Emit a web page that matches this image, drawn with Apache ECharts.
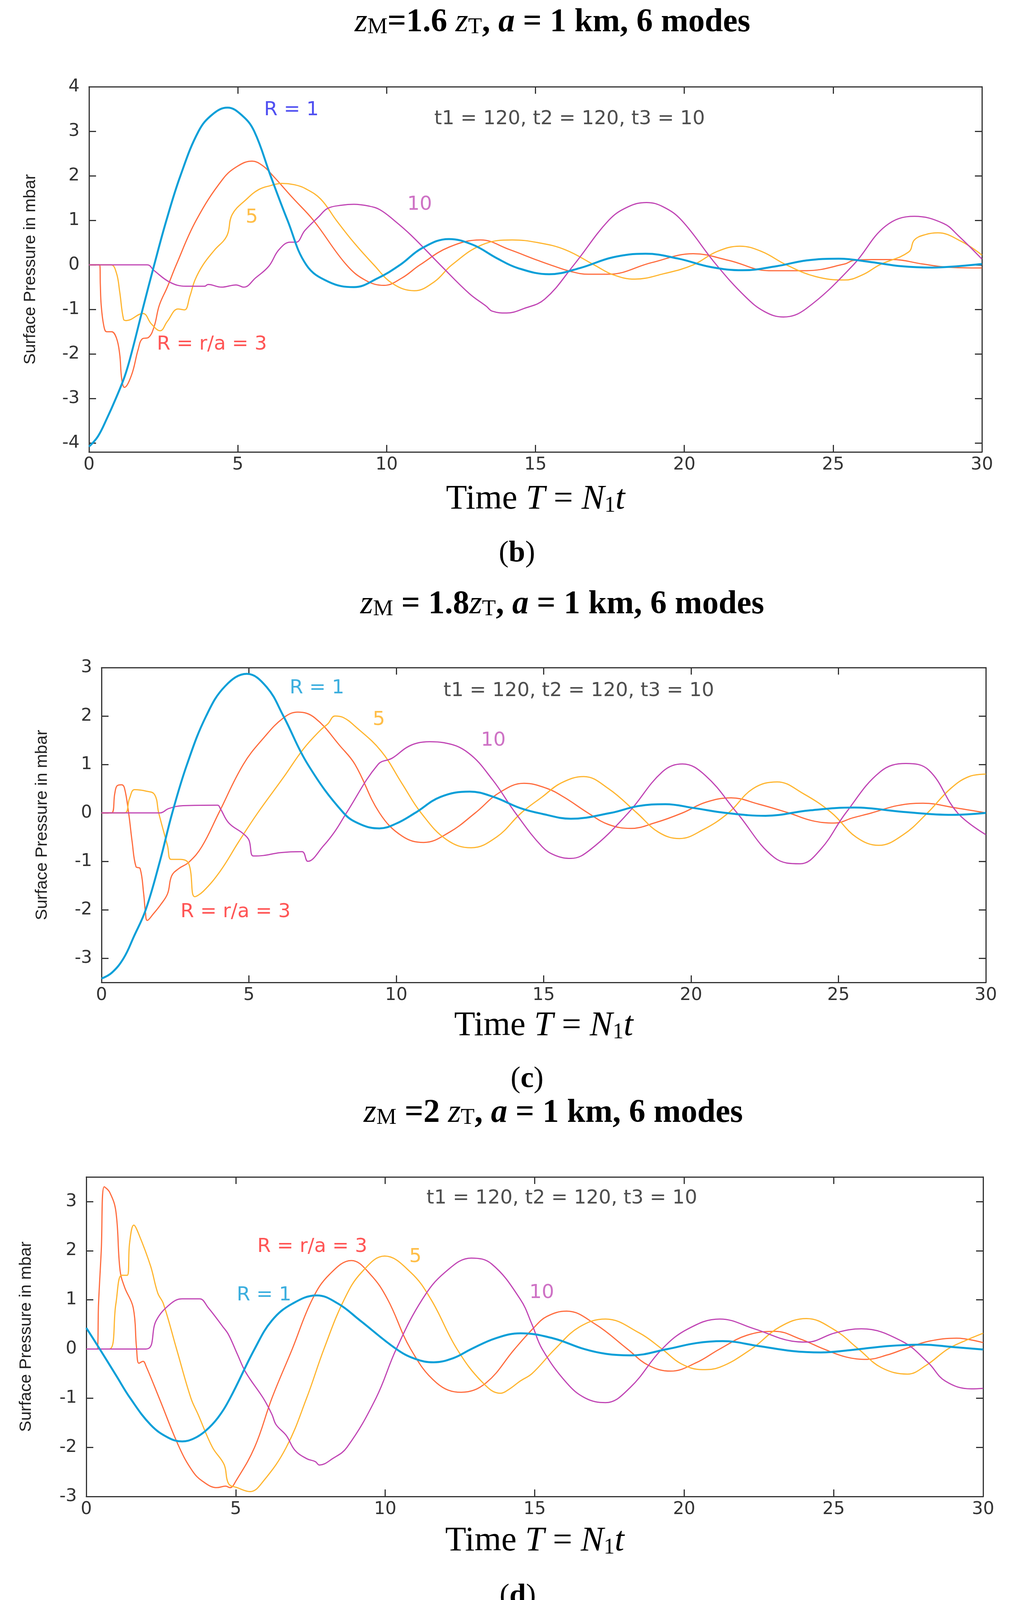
<!DOCTYPE html>
<html>
<head>
<meta charset="utf-8">
<title>Surface pressure, 6 modes</title>
<script src="https://cdn.jsdelivr.net/npm/echarts@6.0.0/dist/echarts.min.js"></script>
<style>
html,body{margin:0;padding:0;background:#fff;}
#main{width:2592px;height:4163px;}
</style>
</head>
<body>
<div id="main"></div>
<script>
/* tick labels */
var xTicks = [0, 5, 10, 15, 20, 25, 30];
var yTicksB = [-4, -3, -2, -1, 0, 1, 2, 3, 4];
var yTicksC = [-3, -2, -1, 0, 1, 2, 3];
var yTicksD = [-3, -2, -1, 0, 1, 2, 3];
var seriesNames = ['R = 3', 'R = 5', 'R = 10', 'R = 1'];

/* (b) zM = 1.6 zT : [T, mbar] */
var bR1 = [[0,-4.08],[0.3,-3.85],[0.6,-3.45],[0.9,-3],[1.2,-2.5],[1.42,-2],[1.8,-1],[2.19,0],[2.6,1],[3.07,2],[3.68,3],[4.15,3.38],[4.65,3.53],[5.15,3.35],[5.55,3],[6.1,2],[6.67,1],[7.3,0],[8.05,-0.38],[8.9,-0.5],[9.7,-0.3],[10.45,0],[11.2,0.38],[12.09,0.58],[12.9,0.45],[13.7,0.15],[14.4,-0.07],[15.46,-0.21],[16.5,-0.07],[17.6,0.17],[18.7,0.25],[19.8,0.14],[20.9,-0.05],[21.96,-0.12],[23.1,-0.03],[24.1,0.1],[25.19,0.14],[26.3,0.06],[27.3,-0.03],[28.32,-0.06],[29.2,-0.03],[30,0.02]];
var bR3 = [[0,0],[0.36,0],[0.38,-0.44],[0.41,-0.91],[0.5,-1.38],[0.59,-1.5],[0.76,-1.5],[0.92,-1.64],[1.03,-2.0],[1.1,-2.57],[1.19,-2.75],[1.43,-2.47],[1.65,-1.9],[1.79,-1.66],[2.0,-1.63],[2.19,-1.38],[2.36,-0.91],[2.63,-0.5],[2.93,0],[3.6,1.0],[4.5,1.93],[5.0,2.22],[5.48,2.33],[5.85,2.22],[6.18,2.0],[6.85,1.5],[7.54,1.0],[8.65,0],[9.3,-0.35],[9.91,-0.46],[10.5,-0.3],[11.12,0],[12.1,0.4],[13.16,0.56],[14.1,0.35],[15.08,0.1],[15.5,0],[16.2,-0.15],[16.78,-0.21],[17.46,-0.21],[18.9,0.05],[20.3,0.25],[21.5,0.1],[22.84,-0.13],[24.1,-0.13],[25.39,0.02],[25.68,0.1],[26.3,0.12],[27,0.12],[28,0.02],[28.8,-0.05],[30,-0.07]];
var bR5 = [[0,0],[0.74,0],[0.92,-0.18],[1.03,-0.6],[1.16,-1.22],[1.25,-1.25],[1.81,-1.09],[2.1,-1.33],[2.39,-1.48],[2.63,-1.27],[2.99,-0.99],[3.21,-1.01],[3.39,-0.7],[3.56,-0.34],[3.83,0],[4.2,0.32],[4.63,0.65],[4.81,1.13],[5.3,1.48],[5.7,1.69],[6.1,1.78],[6.47,1.83],[6.9,1.8],[7.25,1.72],[7.78,1.48],[8.31,1.0],[8.9,0.5],[9.57,0],[10.2,-0.42],[10.93,-0.58],[11.6,-0.38],[12.19,0],[13.2,0.45],[14.22,0.56],[15.08,0.5],[16.0,0.34],[16.97,0],[17.6,-0.22],[18.34,-0.32],[19.3,-0.2],[20.3,0],[21.1,0.3],[21.87,0.42],[22.6,0.3],[23.43,0],[24.4,-0.26],[25.39,-0.34],[26.0,-0.22],[26.56,0],[27.54,0.29],[27.73,0.56],[28.1,0.68],[28.52,0.72],[29.3,0.53],[30,0.22]];
var bR10 = [[0,0],[1.96,0],[2.19,-0.13],[2.72,-0.39],[3.25,-0.48],[3.88,-0.48],[4.0,-0.44],[4.45,-0.5],[4.94,-0.45],[5.2,-0.5],[5.6,-0.29],[6.04,-0.03],[6.38,0.34],[6.76,0.51],[6.96,0.51],[7.25,0.77],[7.73,1.09],[8.02,1.27],[8.5,1.34],[8.9,1.36],[9.4,1.32],[9.77,1.24],[10.25,1.0],[10.83,0.66],[11.8,0],[12.77,-0.64],[13.35,-0.93],[13.55,-1.04],[14.03,-1.08],[14.61,-0.98],[15.31,-0.77],[16.29,0],[17.46,1.0],[18.1,1.3],[18.73,1.4],[19.3,1.3],[19.91,1.0],[21.08,0],[22.06,-0.72],[22.7,-1.05],[23.33,-1.17],[24.1,-0.98],[25.68,0],[26.76,0.87],[27.73,1.09],[28.71,0.93],[29.2,0.66],[30,0.13]];

/* (c) zM = 1.8 zT */
var cR1 = [[0,-3.42],[0.35,-3.3],[0.75,-3],[1.1,-2.55],[1.5,-2],[1.98,-1],[2.4,0],[2.9,1],[3.55,2],[4.2,2.62],[4.93,2.87],[5.6,2.6],[6.17,2.0],[7.0,1.0],[8.21,0],[8.8,-0.24],[9.43,-0.32],[10.0,-0.22],[10.64,0],[11.5,0.33],[12.49,0.44],[13.3,0.33],[14.2,0.1],[14.95,-0.02],[15.92,-0.12],[17.28,0],[18.2,0.14],[19.13,0.18],[20.1,0.1],[21.17,0],[22.53,-0.06],[24.0,0.05],[25.54,0.11],[27.2,0.02],[28.85,-0.04],[30,0]];
var cR3 = [[0,0],[0.34,0],[0.45,0.4],[0.53,0.56],[0.68,0.58],[0.78,0.51],[0.92,0],[1.04,-0.6],[1.17,-1.11],[1.31,-1.15],[1.43,-1.67],[1.49,-2.05],[1.55,-2.22],[1.75,-2.09],[2.0,-1.9],[2.24,-1.67],[2.38,-1.3],[2.62,-1.15],[2.96,-1.02],[3.4,-0.7],[3.98,0],[4.81,1.0],[5.49,1.54],[6.17,1.96],[6.66,2.08],[7.24,1.96],[8.11,1.37],[8.6,1.0],[9.43,0],[10.2,-0.48],[10.93,-0.61],[11.8,-0.4],[12.68,0],[13.5,0.42],[14.33,0.61],[15.09,0.51],[15.7,0.32],[16.5,0],[17.2,-0.24],[17.96,-0.32],[18.8,-0.2],[19.71,0],[20.5,0.22],[21.36,0.31],[22.3,0.18],[23.31,0],[24.1,-0.16],[24.86,-0.21],[25.5,-0.1],[26.13,0],[27.0,0.15],[27.87,0.2],[29.0,0.1],[30,0]];
var cR5 = [[0,0],[0.78,0],[0.95,0.3],[1.12,0.48],[1.51,0.45],[1.8,0.38],[1.94,0],[2.24,-0.68],[2.36,-0.96],[2.67,-0.96],[2.96,-1.05],[3.16,-1.73],[3.45,-1.62],[4.03,-1.2],[4.65,-0.6],[5.3,0],[6.17,0.73],[6.85,1.32],[7.43,1.71],[7.68,1.84],[7.92,2.0],[8.2,1.97],[8.6,1.79],[9.48,1.28],[10.2,0.6],[10.84,0],[11.7,-0.55],[12.54,-0.72],[13.4,-0.5],[14.24,0],[14.95,0.33],[15.6,0.62],[16.36,0.75],[17.2,0.5],[18.16,0],[18.9,-0.4],[19.61,-0.53],[20.4,-0.35],[21.27,0],[22.1,0.5],[22.92,0.64],[23.8,0.4],[24.77,0],[25.6,-0.5],[26.37,-0.67],[27.2,-0.45],[28.02,0],[28.8,0.5],[29.43,0.75],[30,0.8]];
var cR10 = [[0,0],[1.99,0],[2.28,0.09],[2.77,0.15],[3.94,0.16],[4.03,0.09],[4.32,-0.21],[4.81,-0.43],[5.0,-0.56],[5.15,-0.89],[5.49,-0.88],[6.07,-0.82],[6.8,-0.8],[7.0,-1.0],[7.53,-0.68],[7.92,-0.38],[8.31,0],[9.38,1.0],[9.86,1.13],[10.35,1.35],[10.7,1.44],[11.13,1.47],[11.61,1.45],[12.44,1.24],[13.27,0.68],[14.04,0],[14.95,-0.7],[15.4,-0.88],[15.92,-0.94],[16.6,-0.75],[17.87,0],[19.03,0.85],[19.71,1.01],[20.49,0.77],[21.56,0],[22.82,-0.92],[23.7,-1.05],[24.4,-0.75],[25.25,0],[26.42,0.85],[27.29,1.02],[28.07,0.88],[29.04,0],[30,-0.45]];

/* (d) zM = 2 zT */
var dR1 = [[0,0.43],[0.45,0],[1.0,-0.54],[1.47,-1.0],[2.15,-1.54],[2.73,-1.8],[3.21,-1.88],[3.6,-1.82],[3.98,-1.67],[4.4,-1.4],[4.81,-1.0],[5.63,0],[6.21,0.58],[6.89,0.92],[7.71,1.09],[8.43,0.92],[9.16,0.58],[10.37,0],[11.0,-0.2],[11.62,-0.27],[12.3,-0.18],[12.88,0],[13.7,0.22],[14.53,0.32],[15.6,0.22],[16.65,0],[17.4,-0.1],[18.2,-0.13],[19.45,0],[20.4,0.12],[21.29,0.16],[22.5,0.06],[23.6,-0.04],[24.57,-0.07],[25.6,-0.02],[26.8,0.06],[27.95,0.09],[29,0.04],[30,-0.01]];
var dR3 = [[0,0],[0.36,0],[0.41,0.92],[0.5,1.99],[0.6,3.3],[0.79,3.18],[0.99,2.8],[1.13,1.6],[1.28,1.26],[1.57,0.84],[1.68,0.03],[1.76,-0.29],[1.9,-0.25],[2.0,-0.35],[2.44,-1.0],[3.11,-2.0],[3.55,-2.48],[3.89,-2.69],[4.37,-2.82],[4.66,-2.79],[4.81,-2.82],[5.0,-2.69],[5.63,-2.0],[6.21,-1.0],[6.89,0],[7.56,1.01],[8.14,1.52],[8.87,1.8],[9.5,1.52],[10.08,1.01],[10.85,0],[11.72,-0.69],[12.54,-0.88],[13.37,-0.69],[14.33,0],[14.95,0.42],[15.4,0.66],[16.07,0.77],[17.04,0.5],[18.1,0],[18.8,-0.33],[19.55,-0.45],[20.4,-0.28],[21.19,0],[22.1,0.28],[23.03,0.36],[23.9,0.2],[24.67,0],[25.4,-0.16],[26.12,-0.21],[26.8,-0.12],[27.37,0],[28.2,0.16],[29.11,0.22],[30,0.13]];
var dR5 = [[0,0],[0.77,0],[0.99,0.92],[1.18,1.5],[1.37,1.5],[1.45,2.16],[1.59,2.52],[1.76,2.33],[2.15,1.69],[2.39,1.14],[2.58,0.92],[3.02,0],[3.5,-1.0],[3.74,-1.33],[4.22,-2.0],[4.61,-2.35],[4.76,-2.74],[5.05,-2.82],[5.48,-2.9],[5.92,-2.69],[6.69,-2.0],[7.37,-1.0],[7.95,0],[8.63,1.01],[9.21,1.56],[9.98,1.89],[10.85,1.56],[11.53,1.01],[12.4,0],[13.27,-0.69],[13.85,-0.9],[14.14,-0.82],[14.52,-0.65],[14.91,-0.5],[15.68,0],[16.5,0.45],[17.37,0.61],[18.49,0.33],[19.26,0],[19.9,-0.3],[20.61,-0.42],[21.19,-0.37],[22.25,0],[23.2,0.45],[24.09,0.62],[25.0,0.4],[25.83,0],[26.6,-0.38],[27.47,-0.51],[28.1,-0.33],[28.82,0],[29.4,0.17],[30,0.32]];
var dR10 = [[0,0],[2.0,0],[2.34,0.58],[2.82,0.92],[3.21,1.02],[3.79,1.02],[4.08,0.84],[4.56,0.46],[4.76,0.29],[5.05,-0.1],[5.34,-0.48],[5.92,-1.0],[6.21,-1.33],[6.35,-1.54],[6.69,-1.76],[6.98,-2.06],[7.37,-2.23],[7.66,-2.29],[7.8,-2.36],[8.24,-2.23],[8.72,-2.0],[9.69,-1.0],[10.37,0],[11.24,1.01],[12.0,1.56],[12.88,1.85],[13.56,1.73],[14.52,1.01],[14.91,0.5],[15.25,0],[16.07,-0.69],[16.7,-1.0],[17.37,-1.09],[18.2,-0.78],[19.26,0],[20.13,0.41],[21.19,0.61],[22.35,0.41],[23.6,0.16],[24.09,0.14],[25.06,0.33],[25.93,0.41],[27.28,0.16],[28.15,-0.27],[28.73,-0.65],[29.6,-0.81],[30,-0.8]];

/* text inside the plots: [text, T, mbar] */
var bNotes = [['R = 1',5.88,3.47],['t1 = 120, t2 = 120, t3 = 10',11.6,3.27],['5',5.26,1.06],['10',10.69,1.35],['R = r/a = 3',2.28,-1.79]];
var cNotes = [['R = 1',6.38,2.57],['t1 = 120, t2 = 120, t3 = 10',11.6,2.52],['5',9.2,1.92],['10',12.87,1.49],['R = r/a = 3',2.68,-2.05]];
var dNotes = [['t1 = 120, t2 = 120, t3 = 10',11.38,3.06],['R = r/a = 3',5.72,2.08],['5',10.8,1.87],['R = 1',5.03,1.09],['10',14.82,1.14]];

var lineColors = ['#ff6b3d', '#ffb52e', '#c044b4', '#0a9fd8'];
var lineWidths = [3, 3, 3, 5];

var panels = [
	{lines:[bR3,bR5,bR10,bR1], notes:bNotes, yTicks:yTicksB, ymin:-4.2, ymax:4,
	 grid:{left:228, top:222, width:2287, height:935}, r1Label:'#2424ee', gapX:72, gapY:128},
	{lines:[cR3,cR5,cR10,cR1], notes:cNotes, yTicks:yTicksC, ymin:-3.5, ymax:3,
	 grid:{left:260, top:1709, width:2265, height:806}, r1Label:'#0a9ad6', gapX:62, gapY:130},
	{lines:[dR3,dR5,dR10,dR1], notes:dNotes, yTicks:yTicksD, ymin:-3, ymax:3.5,
	 grid:{left:221, top:3013, width:2297, height:818}, r1Label:'#0a9ad6', gapX:65, gapY:132}
];

function noteColor(txt, p){
	if (txt === 'R = 1') return p.r1Label;
	if (txt === 'R = r/a = 3') return '#ff2b2b';
	if (txt === '5') return '#ffae1a';
	if (txt === '10') return '#c24fb6';
	return '#222';
}

var axisCol = '#333';
var serif = 'Liberation Serif';
var nameRich = {
	n:{fontFamily:serif, fontSize:88, lineHeight:88, color:'#000'},
	i:{fontFamily:serif, fontSize:88, lineHeight:88, fontStyle:'italic', color:'#000'},
	s:{fontFamily:serif, fontSize:56, lineHeight:62, verticalAlign:'bottom', color:'#000'}
};
var titleRich = {
	b:{fontFamily:serif, fontSize:84, fontWeight:'bold', lineHeight:82},
	i:{fontFamily:serif, fontSize:84, fontStyle:'italic', lineHeight:82},
	a:{fontFamily:serif, fontSize:84, fontStyle:'italic', fontWeight:'bold', lineHeight:82},
	s:{fontFamily:serif, fontSize:58, lineHeight:60, verticalAlign:'bottom'}
};
var labelRich = {
	n:{fontFamily:serif, fontSize:76, lineHeight:90},
	b:{fontFamily:serif, fontSize:76, fontWeight:'bold', lineHeight:90}
};

var grids = [], xAxes = [], yAxes = [], series = [];
panels.forEach(function(p, k){
	var g = p.grid;
	grids.push({left:g.left, top:g.top, width:g.width, height:g.height, containLabel:false, outerBoundsMode:'none'});
	//下边、左边带刻度标签，上边、右边只画刻度
	xAxes.push({
		type:'value', gridIndex:k, position:'bottom', min:0, max:30, interval:5,
		axisLine:{show:true, onZero:false, lineStyle:{color:axisCol, width:3}},
		axisTick:{show:true, inside:true, length:18, lineStyle:{color:axisCol, width:3}},
		axisLabel:{show:true, margin:11, fontFamily:'DejaVu Sans', fontSize:45, color:'#333',
			formatter:function(v){ return xTicks.indexOf(v) >= 0 ? String(v) : ''; }},
		splitLine:{show:false},
		name:'{n|Time }{i|T}{n| = }{i|N}{s|1}{i|t}', nameLocation:'middle', nameGap:p.gapX + 6,
		nameTextStyle:{rich:nameRich}
	});
	xAxes.push({
		type:'value', gridIndex:k, position:'top', min:0, max:30, interval:5,
		axisLine:{show:true, onZero:false, lineStyle:{color:axisCol, width:3}},
		axisTick:{show:true, inside:true, length:18, lineStyle:{color:axisCol, width:3}},
		axisLabel:{show:false}, splitLine:{show:false}
	});
	yAxes.push({
		type:'value', gridIndex:k, position:'left', min:p.ymin, max:p.ymax,
		axisLine:{show:true, onZero:false, lineStyle:{color:axisCol, width:3}},
		axisTick:{show:true, inside:true, length:18, customValues:p.yTicks, lineStyle:{color:axisCol, width:3}},
		axisLabel:{show:true, margin:24, customValues:p.yTicks, fontFamily:'DejaVu Sans', fontSize:45, color:'#333'},
		splitLine:{show:false},
		name:'Surface Pressure in mbar', nameLocation:'middle', nameGap:p.gapY, nameRotate:90,
		nameTextStyle:{fontFamily:'Liberation Sans', fontSize:43, color:'#222'}
	});
	yAxes.push({
		type:'value', gridIndex:k, position:'right', min:p.ymin, max:p.ymax,
		axisLine:{show:true, onZero:false, lineStyle:{color:axisCol, width:3}},
		axisTick:{show:true, inside:true, length:18, customValues:p.yTicks, lineStyle:{color:axisCol, width:3}},
		axisLabel:{show:false}, splitLine:{show:false}
	});
	p.lines.forEach(function(d, j){
		series.push({
			name:seriesNames[j], type:'line', xAxisIndex:2*k, yAxisIndex:2*k,
			data:d, showSymbol:false, smooth:0.4, silent:true, z:j === 3 ? 4 : 3,
			lineStyle:{color:lineColors[j], width:lineWidths[j]}
		});
	});
	//曲线旁的文字
	series.push({
		type:'scatter', xAxisIndex:2*k, yAxisIndex:2*k, symbolSize:0, silent:true, z:5,
		data:p.notes.map(function(n){
			return {name:n[0], value:[n[1], n[2]], label:{color:noteColor(n[0], p)}};
		}),
		label:{show:true, position:'right', distance:0, fontFamily:'DejaVu Sans', fontSize:50,
			formatter:function(q){ return q.name; }}
	});
});

var titles = [
	['{i|z}{s|M}{b|=1.6 }{i|z}{s|T}{b|, }{a|a}{b| = 1 km, 6 modes}', 1415, 58],
	['{i|z}{s|M}{b| = 1.8}{i|z}{s|T}{b|, }{a|a}{b| = 1 km, 6 modes}', 1440, 1548],
	['{i|z}{s|M}{b| =2 }{i|z}{s|T}{b|, }{a|a}{b| = 1 km, 6 modes}', 1417, 2850]
];
var panelTags = [['{n|(}{b|b}{n|)}', 1324, 1417], ['{n|(}{b|c}{n|)}', 1350, 2763], ['{n|(}{b|d}{n|)}', 1326, 4087]];

var graphic = [];
titles.forEach(function(t){
	graphic.push({type:'text', x:t[1], y:t[2], silent:true,
		style:{text:t[0], rich:titleRich, fill:'#000', align:'center', verticalAlign:'middle'}});
});
panelTags.forEach(function(t){
	graphic.push({type:'text', x:t[1], y:t[2], silent:true,
		style:{text:t[0], rich:labelRich, fill:'#000', align:'center', verticalAlign:'middle'}});
});

var chart = echarts.init(document.getElementById('main'));
chart.setOption({
	backgroundColor:'#fff',
	animation:false,
	grid:grids,
	xAxis:xAxes,
	yAxis:yAxes,
	series:series,
	graphic:graphic
});
</script>
</body>
</html>
